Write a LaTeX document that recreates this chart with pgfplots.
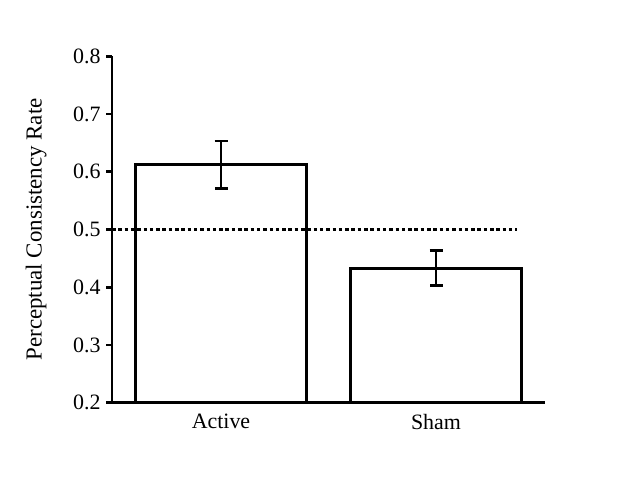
\documentclass[border=0pt]{standalone}
\usepackage{pgfplots}
\pgfplotsset{compat=1.18}
\usepackage{fontspec}
\setmainfont{Liberation Serif}
\begin{document}
\begin{tikzpicture}[x=1bp,y=1bp]
\path[use as bounding box] (0,0) rectangle (631,483);
\begin{axis}[
  at={(112bp,80.3bp)}, anchor=origin,
  scale only axis, width=433bp, height=346.5bp,
  xmin=0.493, xmax=2.507, ymin=0.2, ymax=0.8,
  axis x line*=bottom, axis y line*=left,
  axis line style={line width=2.8bp, -},
  ytick={0.2,0.3,...,0.8},
  yticklabel style={/pgf/number format/fixed,/pgf/number format/precision=1, xshift=-2bp},
  /pgf/number format/assume math mode=true,
  xtick={1,2}, xticklabels={Active,Sham},
  x tick style={draw=none},
  y tick style={line width=2.8bp, black},
  tick align=outside, major tick length=6bp,
  ticklabel style={font=\fontsize{22}{24}\selectfont},
  ylabel={Perceptual Consistency Rate},
  ylabel style={font=\fontsize{23}{26}\selectfont, at={(axis description cs:-0.175,0.5)}, anchor=center},
  xticklabel style={yshift=-2bp},
  clip=false,
]
\addplot[ybar, bar width=171bp, draw=black, line width=2.8bp, fill=white,
  error bars/.cd, y dir=both, y explicit,
  error bar style={line width=2.8bp},
  error mark options={rotate=90, mark size=6.5bp, line width=2.8bp}]
  coordinates {(1,0.612) +- (0,0.041) (2,0.433) +- (0,0.030)};
\addplot[black, line width=2.8bp, dash pattern=on 3.5bp off 2.8bp] coordinates {(0.493,0.5) (2.377,0.5)};
\end{axis}
\end{tikzpicture}
\end{document}
